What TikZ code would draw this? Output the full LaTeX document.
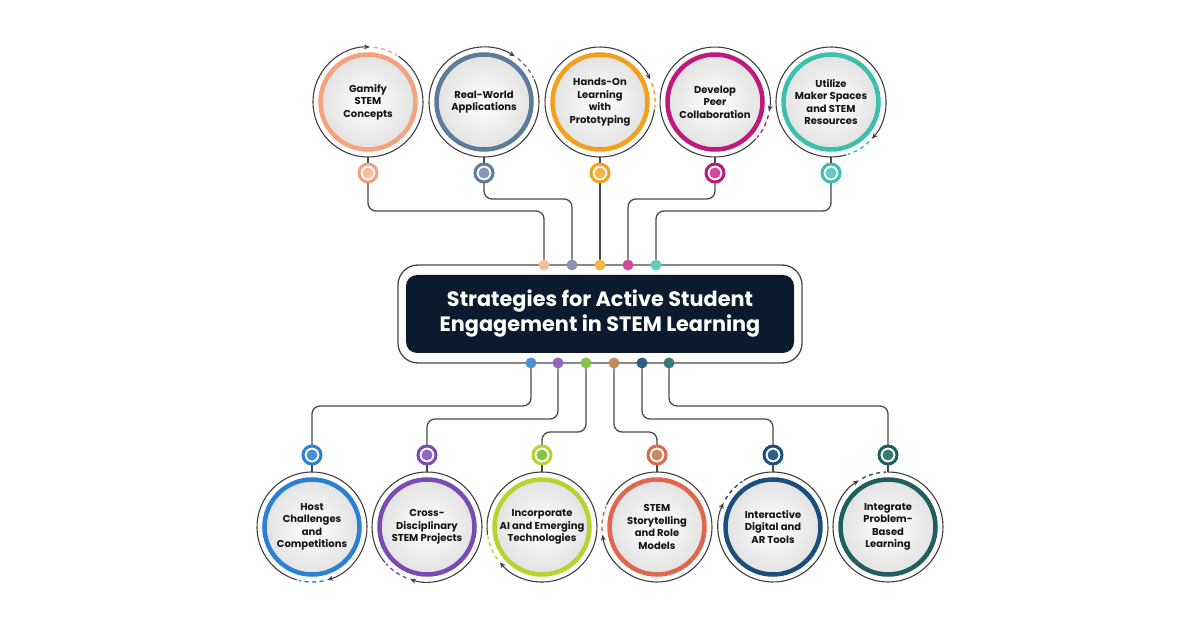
\documentclass[tikz,border=0pt]{standalone}
\usepackage{fontspec}
\setmainfont{Poppins}
\newfontfamily\popbold{Poppins Bold}
\usetikzlibrary{arrows.meta}

\definecolor{peach}{HTML}{F6A27F}   \definecolor{peachdot}{HTML}{F8BB9C}
\definecolor{slate}{HTML}{5E7B9A}   \definecolor{slatedot}{HTML}{8597AE}
\definecolor{amber}{HTML}{F5A01A}   \definecolor{amberdot}{HTML}{F7B545}
\definecolor{berry}{HTML}{C0197E}   \definecolor{berrydot}{HTML}{CF4C9C}
\definecolor{mint}{HTML}{3CC0AE}    \definecolor{mintdot}{HTML}{62CDBF}
\definecolor{sky}{HTML}{2D7FD3}     \definecolor{skydot}{HTML}{4A90D9}
\definecolor{grape}{HTML}{7A4CB3}   \definecolor{grapedot}{HTML}{9167C0}
\definecolor{lime}{HTML}{B7D32E}    \definecolor{limedot}{HTML}{86C545}
\definecolor{coral}{HTML}{E0674F}   \definecolor{coraldot}{HTML}{C48C5C}
\definecolor{navy}{HTML}{1B4E7C}    \definecolor{navydot}{HTML}{2F5F86}
\definecolor{pine}{HTML}{1E5E5E}    \definecolor{pinedot}{HTML}{3A7A78}
\definecolor{ink}{HTML}{0C1A2E}
\definecolor{wirec}{HTML}{4A4A4A}

\begin{document}
\begin{tikzpicture}[x=1pt, y=-1pt, line cap=round,
  strat/.style={circle, minimum size=110pt, inner sep=0pt, align=center,
    text=black!92, font=\popbold\fontsize{10}{12.5}\selectfont,
    path picture={\draw[line width=4.5pt, draw=#1, inner color=white, outer color=black!13]
      (path picture bounding box.center) circle (47.5);}},
  knob/.style 2 args={circle, minimum size=18pt, inner sep=0pt, draw=#1, line width=3pt,
    fill=white, path picture={\fill[#2] (path picture bounding box.center) circle (5.5);}},
  pip/.style={circle, minimum size=11pt, inner sep=0pt, fill=#1},
  wire/.style={draw=wirec, line width=1.3pt, rounded corners=8pt},
  orbit/.style={draw=black!75, line width=1.1pt, -{Stealth[length=6pt,width=5pt]}},
  trail/.style={draw=#1, line width=1.4pt, dash pattern=on 4pt off 3.5pt, line cap=butt}]

  %% ════ canvas ════
  \path[fill=white, use as bounding box] (0,0) rectangle (1200,628);

  %% ════ centre panel ════
  \node[draw=wirec, line width=1.3pt, fill=white, rounded corners=20pt,
        minimum width=404pt, minimum height=98pt] (frame) at (600,314) {};
  \node[fill=ink, rounded corners=11pt, minimum width=388pt, minimum height=78pt,
        align=center, text=white, font=\popbold\fontsize{20.8}{25}\selectfont]
        (title) at (600,314) {Strategies for Active Student\\Engagement in STEM Learning};

  %% ════ pips on the panel edge ════
  \node[pip=peachdot] (tdot1) at (544,265) {};
  \node[pip=slatedot] (tdot2) at (572,265) {};
  \node[pip=amberdot] (tdot3) at (600,265) {};
  \node[pip=berrydot] (tdot4) at (628,265) {};
  \node[pip=mintdot]  (tdot5) at (656,265) {};
  \node[pip=skydot]   (bdot1) at (531,363) {};
  \node[pip=grapedot] (bdot2) at (558,363) {};
  \node[pip=limedot]  (bdot3) at (586,363) {};
  \node[pip=coraldot] (bdot4) at (614,363) {};
  \node[pip=navydot]  (bdot5) at (642,363) {};
  \node[pip=pinedot]  (bdot6) at (669,363) {};

  %% ════ strategy circles, top row ════
  \node[strat=peach] (gamify)   at (368,102) {Gamify\\STEM\\Concepts};
  \node[strat=slate] (realwd)   at (484,102) {Real-World\\Applications};
  \node[strat=amber] (hands)    at (600,102) {Hands-On\\Learning\\with\\Prototyping};
  \node[strat=berry] (develop)  at (715,102) {Develop\\Peer\\Collaboration};
  \node[strat=mint]  (utilize)  at (831,102) {Utilize\\Maker Spaces\\and STEM\\Resources};

  %% ════ strategy circles, bottom row ════
  \node[strat=sky]   (host)     at (312,527) {Host\\Challenges\\and\\Competitions};
  \node[strat=grape] (cross)    at (427,527) {Cross-\\Disciplinary\\STEM Projects};
  \node[strat=lime]  (incorp)   at (542,527) {Incorporate\\AI and Emerging\\Technologies};
  \node[strat=coral] (story)    at (657,527) {STEM\\Storytelling\\and Role\\Models};
  \node[strat=navy]  (interact) at (773,527) {Interactive\\Digital and\\AR Tools};
  \node[strat=pine]  (integ)    at (888,527) {Integrate\\Problem-\\Based\\Learning};

  %% ════ knobs ════
  \node[knob={peach}{peachdot}] (gamifyd)   at (368,173) {};
  \node[knob={slate}{slatedot}] (realwdd)   at (484,173) {};
  \node[knob={amber}{amberdot}] (handsd)    at (600,173) {};
  \node[knob={berry}{berrydot}] (developd)  at (715,173) {};
  \node[knob={mint}{mintdot}]   (utilized)  at (831,173) {};
  \node[knob={sky}{skydot}]     (hostd)     at (312,455) {};
  \node[knob={grape}{grapedot}] (crossd)    at (427,455) {};
  \node[knob={lime}{limedot}]   (incorpd)   at (542,455) {};
  \node[knob={coral}{coraldot}] (storyd)    at (657,455) {};
  \node[knob={navy}{navydot}]   (interactd) at (773,455) {};
  \node[knob={pine}{pinedot}]   (integd)    at (888,455) {};

  %% ════ wires: panel -> knobs ════
  \draw[wire] (gamifyd) -- ++(0,38) -| (tdot1);
  \draw[wire] (realwdd) -- ++(0,26) -| (tdot2);
  \draw[wire] (handsd) -- (tdot3);
  \draw[wire] (developd) -- ++(0,26) -| (tdot4);
  \draw[wire] (utilized) -- ++(0,38) -| (tdot5);
  \draw[wire] (bdot1) -- ++(0,43) -| (hostd);
  \draw[wire] (bdot2) -- ++(0,56) -| (crossd);
  \draw[wire] (bdot3) -- ++(0,69) -| (incorpd);
  \draw[wire] (bdot4) -- ++(0,69) -| (storyd);
  \draw[wire] (bdot5) -- ++(0,56) -| (interactd);
  \draw[wire] (bdot6) -- ++(0,43) -| (integd);

  %% ════ knobs -> circles ════
  \draw[wire] (gamifyd) -- (gamify);
  \draw[wire] (realwdd) -- (realwd);
  \draw[wire] (handsd) -- (hands);
  \draw[wire] (developd) -- (develop);
  \draw[wire] (utilized) -- (utilize);
  \draw[wire] (hostd) -- (host);
  \draw[wire] (crossd) -- (cross);
  \draw[wire] (incorpd) -- (incorp);
  \draw[wire] (storyd) -- (story);
  \draw[wire] (interactd) -- (interact);
  \draw[wire] (integd) -- (integ);

  %% ════ orbits (angles negated: y runs downward) ════
  \draw[orbit] (gamify.center) ++(-416:55) arc[start angle=-416, end angle=-88, radius=55];
  \draw[trail=peach] (gamify.center) ++(-84:55) arc[start angle=-84, end angle=-58, radius=55];
  \draw[orbit] (realwd.center) ++(-384:55) arc[start angle=-384, end angle=-56, radius=55];
  \draw[trail=slate] (realwd.center) ++(-52:55) arc[start angle=-52, end angle=-26, radius=55];
  \draw[orbit] (hands.center) ++(-352:55) arc[start angle=-352, end angle=-24, radius=55];
  \draw[trail=amber] (hands.center) ++(-20:55) arc[start angle=-20, end angle=6, radius=55];
  \draw[orbit] (develop.center) ++(-318:55) arc[start angle=-318, end angle=10, radius=55];
  \draw[trail=berry] (develop.center) ++(14:55) arc[start angle=14, end angle=40, radius=55];
  \draw[orbit] (utilize.center) ++(-286:55) arc[start angle=-286, end angle=42, radius=55];
  \draw[trail=mint] (utilize.center) ++(46:55) arc[start angle=46, end angle=72, radius=55];
  \draw[orbit] (host.center) ++(-254:55) arc[start angle=-254, end angle=74, radius=55];
  \draw[trail=sky] (host.center) ++(78:55) arc[start angle=78, end angle=104, radius=55];
  \draw[orbit] (cross.center) ++(-220:55) arc[start angle=-220, end angle=108, radius=55];
  \draw[trail=grape] (cross.center) ++(112:55) arc[start angle=112, end angle=138, radius=55];
  \draw[orbit] (incorp.center) ++(-188:55) arc[start angle=-188, end angle=140, radius=55];
  \draw[trail=lime] (incorp.center) ++(144:55) arc[start angle=144, end angle=170, radius=55];
  \draw[orbit] (story.center) ++(-156:55) arc[start angle=-156, end angle=172, radius=55];
  \draw[trail=coral] (story.center) ++(176:55) arc[start angle=176, end angle=202, radius=55];
  \draw[orbit] (interact.center) ++(-122:55) arc[start angle=-122, end angle=206, radius=55];
  \draw[trail=navy] (interact.center) ++(210:55) arc[start angle=210, end angle=236, radius=55];
  \draw[orbit] (integ.center) ++(-90:55) arc[start angle=-90, end angle=238, radius=55];
  \draw[trail=pine] (integ.center) ++(242:55) arc[start angle=242, end angle=268, radius=55];
\end{tikzpicture}
\end{document}
